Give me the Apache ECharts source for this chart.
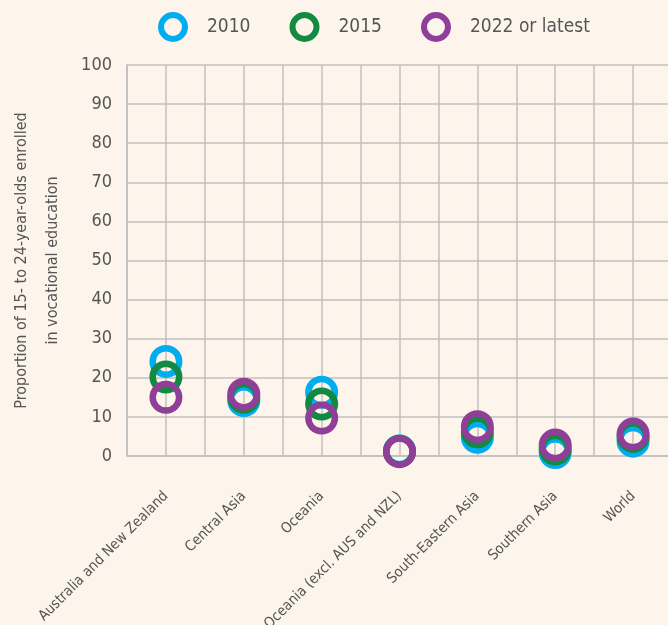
<!DOCTYPE html>
<html>
<head>
<meta charset="utf-8">
<script src="https://cdn.jsdelivr.net/npm/echarts@6/dist/echarts.min.js"></script>
<style>
  html, body { margin: 0; padding: 0; background: #fdf5eb; }
  #chart { width: 668px; height: 625px; }
</style>
</head>
<body>
<div id="chart"></div>
<script>
var regions = ['Australia and New Zealand', 'Central Asia', 'Oceania', 'Oceania (excl. AUS and NZL)', 'South-Eastern Asia', 'Southern Asia', 'World']
var y2010 = [24.2, 14.2, 16.3, 1.3, 4.8, 0.9, 3.8]
var y2015 = [20.2, 15.0, 13.3, 1.2, 6.2, 1.8, 5.0]
var yLatest = [15.0, 15.8, 9.7, 1.1, 7.5, 2.8, 5.6]
var halfSlots = ['a', 'b', 'c', 'd', 'e', 'f', 'g', 'h', 'i', 'j', 'k', 'l', 'm', 'n'] // for the mid-category grid lines

var font = "'DejaVu Sans Condensed', 'Liberation Sans Narrow', sans-serif"
var gridColor = '#c0bfc0'
var colors = { a: '#00aeef', b: '#138a41', c: '#8f3f97' }

function ring(name, color, data) {
  return {
    name: name,
    type: 'scatter',
    xAxisIndex: 0,
    data: data,
    symbol: 'circle',
    symbolSize: 26.5,
    itemStyle: { color: 'transparent', borderColor: color, borderWidth: 6.5, opacity: 1 },
    emphasis: { disabled: true }
  }
}

function legendItem(name, color) {
  return { name: name, itemStyle: { color: 'transparent', borderColor: color, borderWidth: 6 } }
}

var chart = echarts.init(document.getElementById('chart'))
chart.setOption({
  backgroundColor: '#fdf5eb',
  animation: false,
  textStyle: { fontFamily: font },
  legend: {
    left: 153,
    top: 7,
    itemWidth: 24,
    itemHeight: 24,
    itemGap: 39,
    icon: 'circle',
    textStyle: { fontFamily: font, fontSize: 19, color: '#555', padding: [0, 0, 0, 17] },
    data: [legendItem('2010', colors.a), legendItem('2015', colors.b), legendItem('2022 or latest', colors.c)]
  },
  grid: { left: 127, right: -4, top: 65, bottom: 169, containLabel: false, outerBoundsMode: 'none' },
  xAxis: [{
    type: 'category',
    data: regions,
    boundaryGap: true,
    axisLine: { show: true, lineStyle: { color: gridColor, width: 1.5 } },
    axisTick: { show: false },
    splitLine: { show: false },
    axisLabel: { rotate: 45, margin: 38, fontSize: 14.5, color: '#555', fontFamily: font, interval: 0 }
  }, {
    type: 'category',
    data: halfSlots,
    position: 'bottom',
    boundaryGap: true,
    axisLine: { show: false },
    axisTick: { show: false },
    axisLabel: { show: false },
    splitLine: { show: true, lineStyle: { color: gridColor, width: 1.5 } }
  }],
  yAxis: {
    type: 'value',
    min: 0,
    max: 100,
    interval: 10,
    axisLine: { show: true, lineStyle: { color: gridColor, width: 1.5 } },
    axisTick: { show: false },
    axisLabel: { margin: 15, fontSize: 18, color: '#555', fontFamily: font },
    splitLine: { show: true, lineStyle: { color: gridColor, width: 1.5 } },
    name: 'Proportion of 15- to 24-year-olds enrolled\nin vocational education',
    nameLocation: 'middle',
    nameRotate: 90,
    nameGap: 59,
    nameTextStyle: { fontSize: 16, color: '#555', fontFamily: font, lineHeight: 31, align: 'center' }
  },
  series: [
    ring('2010', colors.a, y2010),
    ring('2015', colors.b, y2015),
    ring('2022 or latest', colors.c, yLatest)
  ]
})
</script>
</body>
</html>
